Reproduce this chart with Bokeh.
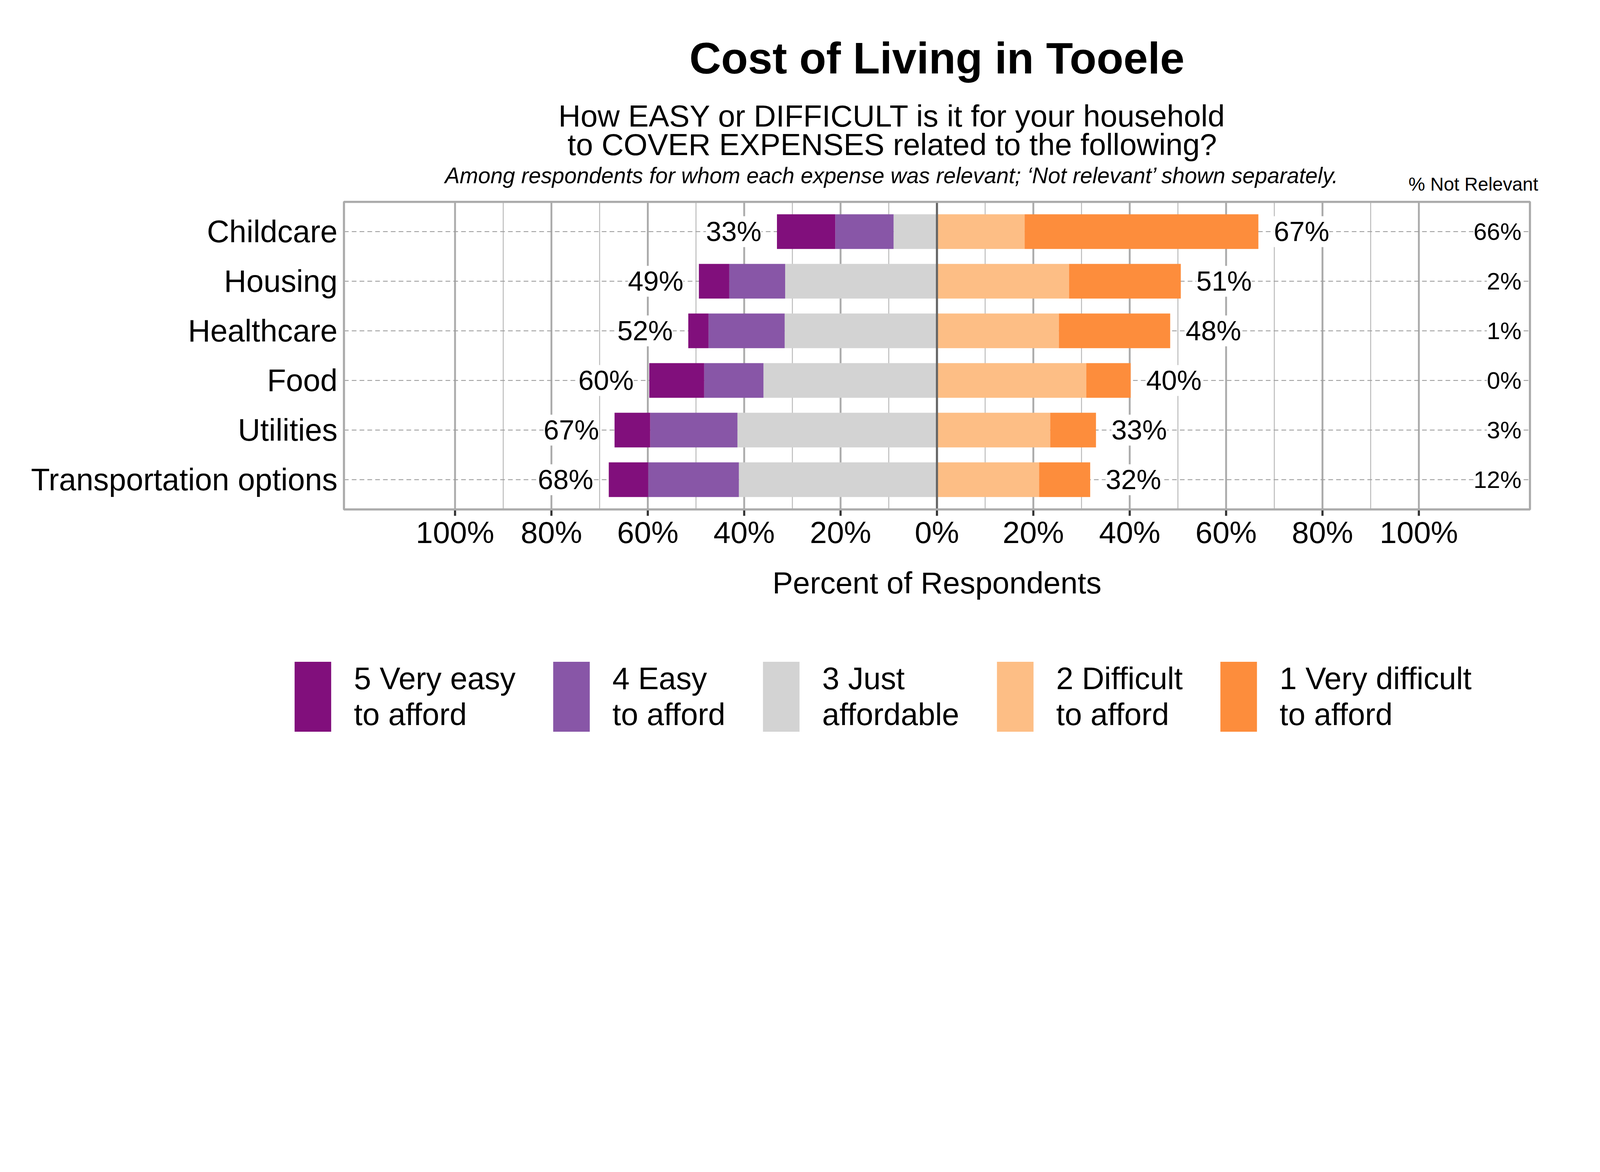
import numpy as np
from bokeh.plotting import figure
from bokeh.models import Range1d, ColumnDataSource, LabelSet, Legend, LegendItem
from bokeh.core.properties import value
from bokeh.embed import file_html
from bokeh.resources import INLINE

# ---------------- data ----------------
categories = ["Childcare", "Housing", "Healthcare", "Food", "Utilities", "Transportation options"]
very_easy = [12.1, 6.3, 4.2, 11.4, 7.4, 8.2]          # 5 Very easy to afford
easy = [12.1, 11.6, 15.8, 12.3, 18.1, 18.8]           # 4 Easy to afford
just_affordable = [9.0, 31.5, 31.6, 36.0, 41.4, 41.1]  # 3 Just affordable
difficult = [18.2, 27.4, 25.3, 31.0, 23.5, 21.2]       # 2 Difficult to afford
very_difficult = [48.5, 23.2, 23.1, 9.2, 9.5, 10.6]    # 1 Very difficult to afford
not_relevant = [66, 2, 1, 0, 3, 12]

level_labels = ["5 Very easy\nto afford", "4 Easy\nto afford", "3 Just\naffordable",
                "2 Difficult\nto afford", "1 Very difficult\nto afford"]
level_colors = ["#810F7C", "#8856A7", "#D3D3D3", "#FDBE85", "#FD8D3C"]

x_ticks = [-1.0, -0.8, -0.6, -0.4, -0.2, 0.0, 0.2, 0.4, 0.6, 0.8, 1.0]
x_tick_labels = ["100%", "80%", "60%", "40%", "20%", "0%", "20%", "40%", "60%", "80%", "100%"]

title_text = "Cost of Living in Tooele"
subtitle_lines = ["How EASY or DIFFICULT is it for your household",
                  "to COVER EXPENSES related to the following?"]
note_text = "Among respondents for whom each expense was relevant; \u2018Not relevant\u2019 shown separately."
nr_header = "% Not Relevant"
x_title = "Percent of Respondents"

FONT = "Liberation Sans"

# ---------------- layout constants ----------------
K = 6000 / 4096            # picture px per CSS px
W, H = 4080, 2032          # figure size (CSS px)
XL, XR = -1.2305, 1.2305   # panel x extent (fraction)
YB, YT = 0.4, 6.6          # panel y extent (rows)
UX, UY = 1807.0, 186.0     # picture px per x unit / per row


def fs(px):
    return f"{px / K:.1f}px"


def lw(px):
    return px / K


def ty(ref_y):
    """vertical picture position -> row units"""
    return YT + (768 - ref_y) / UY


def mid(baseline, size):
    """row position of the middle of a text whose baseline is given"""
    return ty(baseline - 0.35 * size)


# ---------------- derived ----------------
n = len(categories)
rows = [n - i for i in range(n)]
ve = np.array(very_easy) / 100
ea = np.array(easy) / 100
ja = np.array(just_affordable) / 100
di = np.array(difficult) / 100
vd = np.array(very_difficult) / 100
left_total = ve + ea + ja
right_total = di + vd

src = ColumnDataSource(dict(
    y=rows, cat=categories,
    l3=-ja, l4=-(ja + ea), l5=-left_total,
    r2=di, r1=right_total,
    lx=-left_total, rx=right_total,
    ltxt=[f"{int(round(v * 100))}%" for v in left_total],
    rtxt=[f"{int(round(v * 100))}%" for v in right_total],
    nrtxt=[f"{v}%" for v in not_relevant],
))

# ranges so that the panel lands where it should on the canvas
x0 = XL - (1301 - 12) / UX
x1 = XR + (5988 - 5748) / UX
y1 = ty(12)
y0 = ty(2988)

p = figure(width=W, height=H, x_range=Range1d(x0, x1), y_range=Range1d(y0, y1),
           output_backend="svg", toolbar_location=None, title=None,
           min_border=0)
p.axis.visible = False
p.grid.visible = False
p.outline_line_color = None
p.background_fill_color = "white"
p.border_fill_color = "white"

# vertical grid lines
major_x = [t for t in x_ticks if t != 0]
minor_x = [(a + b) / 2 for a, b in zip(x_ticks[:-1], x_ticks[1:])]
p.segment(x0=minor_x, x1=minor_x, y0=YB, y1=YT, line_color="#B8B8B8", line_width=lw(3.5))
p.segment(x0=major_x, x1=major_x, y0=YB, y1=YT, line_color="#ABABAB", line_width=lw(7))
# dashed row lines
p.segment(x0=XL, x1=XR, y0=rows, y1=rows, line_color="#9E9E9E", line_width=lw(3.5),
          line_dash="12 8")

# bars
bh = 0.7
r3 = p.hbar(y="y", left="l3", right=0, height=bh, source=src, fill_color=level_colors[2], line_color=None)
r4 = p.hbar(y="y", left="l4", right="l3", height=bh, source=src, fill_color=level_colors[1], line_color=None)
r5 = p.hbar(y="y", left="l5", right="l4", height=bh, source=src, fill_color=level_colors[0], line_color=None)
r2 = p.hbar(y="y", left=0, right="r2", height=bh, source=src, fill_color=level_colors[3], line_color=None)
r1 = p.hbar(y="y", left="r2", right="r1", height=bh, source=src, fill_color=level_colors[4], line_color=None)

# zero line on top of bars
p.segment(x0=[0], x1=[0], y0=YB, y1=YT, line_color="#666666", line_width=lw(8))

# x-axis ticks
p.segment(x0=x_ticks, x1=x_ticks, y0=YB, y1=ty(1945), line_color="#333333", line_width=lw(8))
# panel border
p.quad(left=XL, right=XR, bottom=YB, top=YT, fill_color=None, line_color="#ABABAB", line_width=lw(8))

# x tick labels and axis title
p.text(x=x_ticks, y=mid(2047, 115), text=x_tick_labels, text_align="center",
       text_baseline="middle", text_font=value(FONT), text_font_size=fs(115), text_color="black")
p.text(x=[0], y=[mid(2237, 115)], text=[x_title], text_align="center",
       text_baseline="middle", text_font=value(FONT), text_font_size=fs(115), text_color="black")
# category labels
p.text(x=XL, y="y", text="cat", source=src, x_offset=-lw(24), text_align="right",
       text_baseline="middle", text_font=value(FONT), text_font_size=fs(116), text_color="black")

# value labels
common = dict(source=src, y="y", text_baseline="middle", text_font=value(FONT),
              text_color="black", background_fill_color="white")
p.add_layout(LabelSet(x="lx", text="ltxt", x_offset=-lw(58), text_align="right",
                      text_font_size=value(fs(104)), **common))
p.add_layout(LabelSet(x="rx", text="rtxt", x_offset=lw(58), text_align="left",
                      text_font_size=value(fs(104)), **common))
p.add_layout(LabelSet(x=1.213, text="nrtxt", text_align="right",
                      text_font_size=value(fs(90)), **common))

# titles
p.text(x=[0], y=[mid(287, 165)], text=[title_text], text_align="center", text_baseline="middle",
       text_font=value(FONT), text_font_style="bold", text_font_size=fs(165), text_color="black")
p.text(x=[-0.093, -0.093], y=[mid(486, 115), mid(593, 115)], text=subtitle_lines, text_align="center",
       text_baseline="middle", text_font=value(FONT), text_font_size=fs(115), text_color="black")
p.text(x=[-0.093], y=[mid(698, 83)], text=[note_text], text_align="center", text_baseline="middle",
       text_font=value(FONT), text_font_style="italic", text_font_size=fs(83), text_color="black")
p.text(x=[1.113], y=[mid(727, 70)], text=[nr_header], text_align="center", text_baseline="middle",
       text_font=value(FONT), text_font_size=fs(70), text_color="black")

# legend
glyph_w = 137 / 0.8 / K
glyph_h = 262 / 0.8 / K
glyph_top = (2482 - 262 / 8 + 11) / K        # CSS y of the glyph area top on the page
legend_bottom = glyph_top + glyph_h          # CSS y of legend bottom on the page
renderers = [r5, r4, r3, r2, r1]
legend = Legend(items=[LegendItem(label=l, renderers=[r]) for l, r in zip(level_labels, renderers)],
                orientation="horizontal",
                location=((1108 - 137 / 8 + 8 - 12) / K, (8 + H) - legend_bottom),
                glyph_width=int(round(glyph_w)), glyph_height=int(round(glyph_h)),
                label_standoff=int(70 / K), spacing=84,
                padding=0, margin=0, border_line_color=None, background_fill_alpha=0,
                label_text_font=FONT, label_text_font_size=fs(116), label_text_line_height=1.1,
                label_text_color="black")
p.add_layout(legend)

open("out.html", "w").write(file_html(p, INLINE))
